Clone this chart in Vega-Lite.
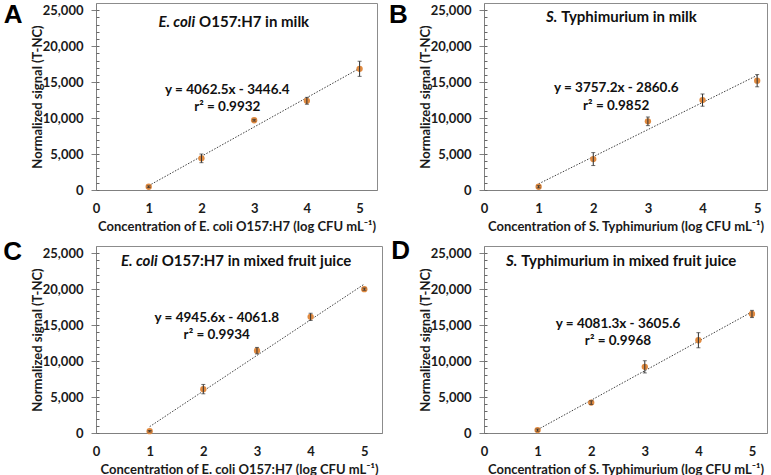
{
  "$schema": "https://vega.github.io/schema/vega-lite/v6.json",
  "padding": {"left": 2, "top": 1, "right": 0, "bottom": 0},
  "background": "white",
  "datasets": {
    "A": [{"x": 1, "y": 450, "err": 120}, {"x": 2, "y": 4400, "err": 600}, {"x": 3, "y": 9700, "err": 120}, {"x": 4, "y": 12400, "err": 480}, {"x": 5, "y": 16850, "err": 1050}],
    "B": [{"x": 1, "y": 450, "err": 150}, {"x": 2, "y": 4300, "err": 900}, {"x": 3, "y": 9550, "err": 600}, {"x": 4, "y": 12500, "err": 850}, {"x": 5, "y": 15200, "err": 850}],
    "C": [{"x": 1, "y": 250, "err": 100}, {"x": 2, "y": 6100, "err": 650}, {"x": 3, "y": 11450, "err": 450}, {"x": 4, "y": 16150, "err": 500}, {"x": 5, "y": 20000, "err": 150}],
    "D": [{"x": 1, "y": 400, "err": 150}, {"x": 2, "y": 4230, "err": 250}, {"x": 3, "y": 9200, "err": 850}, {"x": 4, "y": 12900, "err": 1050}, {"x": 5, "y": 16550, "err": 500}]
  },
  "columns": 2,
  "spacing": {"row": 56, "column": 102},
  "bounds": "flush",
  "concat": [
    {
      "width": 281, "height": 187,
      "data": {"name": "A"},
      "resolve": {"axis": {"x": "independent", "y": "independent"}},
      "layer": [
        {"transform": [{"regression": "y", "on": "x"}],
         "mark": {"type": "line", "color": "#404040", "strokeWidth": 1, "strokeDash": [1.5, 1.5]},
         "encoding": {
           "x": {"field": "x", "type": "quantitative", "scale": {"domain": [0, 5.33], "nice": false}, "axis": {"orient": "bottom", "title": "Concentration of E. coli O157:H7 (log CFU mL⁻¹)", "values": [0, 1, 2, 3, 4, 5], "format": ".0f", "ticks": false, "labelPadding": 12, "titlePadding": 5, "labelFlush": false}},
           "y": {"field": "y", "type": "quantitative", "scale": {"domain": [0, 26000], "nice": false}, "axis": {"orient": "left", "title": "Normalized signal (T-NC)", "values": [0, 5000, 10000, 15000, 20000, 25000], "format": ",.0f", "tickSize": 5, "labelPadding": 8, "minExtent": 46, "maxExtent": 46, "titlePadding": 6}}
         }},
        {"mark": {"type": "point", "filled": true, "size": 40, "color": "#E08A40", "opacity": 1},
         "encoding": {
           "x": {"field": "x", "type": "quantitative", "scale": {"domain": [0, 5.33], "nice": false}, "axis": null},
           "y": {"field": "y", "type": "quantitative", "scale": {"domain": [0, 26000], "nice": false}, "axis": {"orient": "left", "title": null, "values": [0, 1000, 2000, 3000, 4000, 5000, 6000, 7000, 8000, 9000, 10000, 11000, 12000, 13000, 14000, 15000, 16000, 17000, 18000, 19000, 20000, 21000, 22000, 23000, 24000, 25000], "tickSize": 3, "offset": -3, "labels": false, "domain": false, "tickColor": "#666666"}}
         }},
        {"mark": {"type": "errorbar", "ticks": true, "size": 4, "thickness": 1, "color": "#303030"},
         "encoding": {
           "x": {"field": "x", "type": "quantitative", "scale": {"domain": [0, 5.33], "nice": false}, "axis": null},
           "y": {"field": "y", "type": "quantitative", "scale": {"domain": [0, 26000], "nice": false}, "axis": null},
           "yError": {"field": "err"}
         }},
        {"data": {"values": [{}]},
         "mark": {"type": "text", "text": "A", "font": "Liberation Sans", "fontSize": 26, "fontWeight": "bold", "align": "left", "baseline": "alphabetic", "color": "#000"},
         "encoding": {"x": {"datum": -1.75, "type": "quantitative", "scale": {"domain": [0, 5.33], "nice": false}, "axis": null}, "y": {"datum": 23260, "type": "quantitative", "scale": {"domain": [0, 26000], "nice": false}, "axis": null}}},
        {"data": {"values": [{}]},
         "mark": {"type": "text", "text": "E. coli", "fontSize": 15, "fontStyle": "italic", "align": "right", "baseline": "middle"},
         "encoding": {"x": {"datum": 1.88, "type": "quantitative", "scale": {"domain": [0, 5.33], "nice": false}, "axis": null}, "y": {"datum": 23400, "type": "quantitative", "scale": {"domain": [0, 26000], "nice": false}, "axis": null}}},
        {"data": {"values": [{}]},
         "mark": {"type": "text", "text": "O157:H7  in milk", "fontSize": 15, "align": "left", "baseline": "middle", "dx": 4},
         "encoding": {"x": {"datum": 1.88, "type": "quantitative", "scale": {"domain": [0, 5.33], "nice": false}, "axis": null}, "y": {"datum": 23400, "type": "quantitative", "scale": {"domain": [0, 26000], "nice": false}, "axis": null}}},
        {"data": {"values": [{}]},
         "mark": {"type": "text", "text": "y = 4062.5x - 3446.4", "fontSize": 13.5, "align": "center", "baseline": "middle"},
         "encoding": {"x": {"datum": 2.49, "type": "quantitative", "scale": {"domain": [0, 5.33], "nice": false}, "axis": null}, "y": {"datum": 13900, "type": "quantitative", "scale": {"domain": [0, 26000], "nice": false}, "axis": null}}},
        {"data": {"values": [{}]},
         "mark": {"type": "text", "text": "r² = 0.9932", "fontSize": 13.5, "align": "center", "baseline": "middle"},
         "encoding": {"x": {"datum": 2.49, "type": "quantitative", "scale": {"domain": [0, 5.33], "nice": false}, "axis": null}, "y": {"datum": 11500, "type": "quantitative", "scale": {"domain": [0, 26000], "nice": false}, "axis": null}}}
      ]
    },
    {
      "width": 283, "height": 187,
      "data": {"name": "B"},
      "resolve": {"axis": {"x": "independent", "y": "independent"}},
      "layer": [
        {"transform": [{"regression": "y", "on": "x"}],
         "mark": {"type": "line", "color": "#404040", "strokeWidth": 1, "strokeDash": [1.5, 1.5]},
         "encoding": {
           "x": {"field": "x", "type": "quantitative", "scale": {"domain": [0, 5.18], "nice": false}, "axis": {"orient": "bottom", "title": "Concentration of S. Typhimurium (log CFU mL⁻¹)", "values": [0, 1, 2, 3, 4, 5], "format": ".0f", "ticks": false, "labelPadding": 12, "titlePadding": 5, "labelFlush": false}},
           "y": {"field": "y", "type": "quantitative", "scale": {"domain": [0, 26000], "nice": false}, "axis": {"orient": "left", "title": "Normalized signal (T-NC)", "values": [0, 5000, 10000, 15000, 20000, 25000], "format": ",.0f", "tickSize": 5, "labelPadding": 8, "minExtent": 46, "maxExtent": 46, "titlePadding": 6}}
         }},
        {"mark": {"type": "point", "filled": true, "size": 40, "color": "#E08A40", "opacity": 1},
         "encoding": {
           "x": {"field": "x", "type": "quantitative", "scale": {"domain": [0, 5.18], "nice": false}, "axis": null},
           "y": {"field": "y", "type": "quantitative", "scale": {"domain": [0, 26000], "nice": false}, "axis": {"orient": "left", "title": null, "values": [0, 1000, 2000, 3000, 4000, 5000, 6000, 7000, 8000, 9000, 10000, 11000, 12000, 13000, 14000, 15000, 16000, 17000, 18000, 19000, 20000, 21000, 22000, 23000, 24000, 25000], "tickSize": 3, "offset": -3, "labels": false, "domain": false, "tickColor": "#666666"}}
         }},
        {"mark": {"type": "errorbar", "ticks": true, "size": 4, "thickness": 1, "color": "#303030"},
         "encoding": {
           "x": {"field": "x", "type": "quantitative", "scale": {"domain": [0, 5.18], "nice": false}, "axis": null},
           "y": {"field": "y", "type": "quantitative", "scale": {"domain": [0, 26000], "nice": false}, "axis": null},
           "yError": {"field": "err"}
         }},
        {"data": {"values": [{}]},
         "mark": {"type": "text", "text": "B", "font": "Liberation Sans", "fontSize": 26, "fontWeight": "bold", "align": "left", "baseline": "alphabetic", "color": "#000"},
         "encoding": {"x": {"datum": -1.74, "type": "quantitative", "scale": {"domain": [0, 5.18], "nice": false}, "axis": null}, "y": {"datum": 23220, "type": "quantitative", "scale": {"domain": [0, 26000], "nice": false}, "axis": null}}},
        {"data": {"values": [{}]},
         "mark": {"type": "text", "text": "S.", "fontSize": 15, "fontStyle": "italic", "align": "right", "baseline": "middle"},
         "encoding": {"x": {"datum": 1.34, "type": "quantitative", "scale": {"domain": [0, 5.18], "nice": false}, "axis": null}, "y": {"datum": 24000, "type": "quantitative", "scale": {"domain": [0, 26000], "nice": false}, "axis": null}}},
        {"data": {"values": [{}]},
         "mark": {"type": "text", "text": "Typhimurium in milk", "fontSize": 15, "align": "left", "baseline": "middle", "dx": 4},
         "encoding": {"x": {"datum": 1.34, "type": "quantitative", "scale": {"domain": [0, 5.18], "nice": false}, "axis": null}, "y": {"datum": 24000, "type": "quantitative", "scale": {"domain": [0, 26000], "nice": false}, "axis": null}}},
        {"data": {"values": [{}]},
         "mark": {"type": "text", "text": "y = 3757.2x - 2860.6", "fontSize": 13.5, "align": "center", "baseline": "middle"},
         "encoding": {"x": {"datum": 2.42, "type": "quantitative", "scale": {"domain": [0, 5.18], "nice": false}, "axis": null}, "y": {"datum": 14200, "type": "quantitative", "scale": {"domain": [0, 26000], "nice": false}, "axis": null}}},
        {"data": {"values": [{}]},
         "mark": {"type": "text", "text": "r² = 0.9852", "fontSize": 13.5, "align": "center", "baseline": "middle"},
         "encoding": {"x": {"datum": 2.42, "type": "quantitative", "scale": {"domain": [0, 5.18], "nice": false}, "axis": null}, "y": {"datum": 11700, "type": "quantitative", "scale": {"domain": [0, 26000], "nice": false}, "axis": null}}}
      ]
    },
    {
      "width": 286, "height": 187,
      "data": {"name": "C"},
      "resolve": {"axis": {"x": "independent", "y": "independent"}},
      "layer": [
        {"transform": [{"regression": "y", "on": "x"}],
         "mark": {"type": "line", "color": "#404040", "strokeWidth": 1, "strokeDash": [1.5, 1.5]},
         "encoding": {
           "x": {"field": "x", "type": "quantitative", "scale": {"domain": [0, 5.33], "nice": false}, "axis": {"orient": "bottom", "title": "Concentration of E. coli O157:H7 (log CFU mL⁻¹)", "values": [0, 1, 2, 3, 4, 5], "format": ".0f", "ticks": false, "labelPadding": 12, "titlePadding": 5, "labelFlush": false}},
           "y": {"field": "y", "type": "quantitative", "scale": {"domain": [0, 26000], "nice": false}, "axis": {"orient": "left", "title": "Normalized signal (T-NC)", "values": [0, 5000, 10000, 15000, 20000, 25000], "format": ",.0f", "tickSize": 5, "labelPadding": 8, "minExtent": 46, "maxExtent": 46, "titlePadding": 6}}
         }},
        {"mark": {"type": "point", "filled": true, "size": 40, "color": "#E08A40", "opacity": 1},
         "encoding": {
           "x": {"field": "x", "type": "quantitative", "scale": {"domain": [0, 5.33], "nice": false}, "axis": null},
           "y": {"field": "y", "type": "quantitative", "scale": {"domain": [0, 26000], "nice": false}, "axis": {"orient": "left", "title": null, "values": [0, 1000, 2000, 3000, 4000, 5000, 6000, 7000, 8000, 9000, 10000, 11000, 12000, 13000, 14000, 15000, 16000, 17000, 18000, 19000, 20000, 21000, 22000, 23000, 24000, 25000], "tickSize": 3, "offset": -3, "labels": false, "domain": false, "tickColor": "#666666"}}
         }},
        {"mark": {"type": "errorbar", "ticks": true, "size": 4, "thickness": 1, "color": "#303030"},
         "encoding": {
           "x": {"field": "x", "type": "quantitative", "scale": {"domain": [0, 5.33], "nice": false}, "axis": null},
           "y": {"field": "y", "type": "quantitative", "scale": {"domain": [0, 26000], "nice": false}, "axis": null},
           "yError": {"field": "err"}
         }},
        {"data": {"values": [{}]},
         "mark": {"type": "text", "text": "C", "font": "Liberation Sans", "fontSize": 26, "fontWeight": "bold", "align": "left", "baseline": "alphabetic", "color": "#000"},
         "encoding": {"x": {"datum": -1.73, "type": "quantitative", "scale": {"domain": [0, 5.33], "nice": false}, "axis": null}, "y": {"datum": 24050, "type": "quantitative", "scale": {"domain": [0, 26000], "nice": false}, "axis": null}}},
        {"data": {"values": [{}]},
         "mark": {"type": "text", "text": "E. coli", "fontSize": 15, "fontStyle": "italic", "align": "right", "baseline": "middle"},
         "encoding": {"x": {"datum": 1.15, "type": "quantitative", "scale": {"domain": [0, 5.33], "nice": false}, "axis": null}, "y": {"datum": 23900, "type": "quantitative", "scale": {"domain": [0, 26000], "nice": false}, "axis": null}}},
        {"data": {"values": [{}]},
         "mark": {"type": "text", "text": "O157:H7  in mixed fruit juice", "fontSize": 15, "align": "left", "baseline": "middle", "dx": 4},
         "encoding": {"x": {"datum": 1.15, "type": "quantitative", "scale": {"domain": [0, 5.33], "nice": false}, "axis": null}, "y": {"datum": 23900, "type": "quantitative", "scale": {"domain": [0, 26000], "nice": false}, "axis": null}}},
        {"data": {"values": [{}]},
         "mark": {"type": "text", "text": "y = 4945.6x - 4061.8", "fontSize": 13.5, "align": "center", "baseline": "middle"},
         "encoding": {"x": {"datum": 2.25, "type": "quantitative", "scale": {"domain": [0, 5.33], "nice": false}, "axis": null}, "y": {"datum": 16000, "type": "quantitative", "scale": {"domain": [0, 26000], "nice": false}, "axis": null}}},
        {"data": {"values": [{}]},
         "mark": {"type": "text", "text": "r² = 0.9934", "fontSize": 13.5, "align": "center", "baseline": "middle"},
         "encoding": {"x": {"datum": 2.25, "type": "quantitative", "scale": {"domain": [0, 5.33], "nice": false}, "axis": null}, "y": {"datum": 13600, "type": "quantitative", "scale": {"domain": [0, 26000], "nice": false}, "axis": null}}}
      ]
    },
    {
      "width": 283, "height": 187,
      "data": {"name": "D"},
      "resolve": {"axis": {"x": "independent", "y": "independent"}},
      "layer": [
        {"transform": [{"regression": "y", "on": "x"}],
         "mark": {"type": "line", "color": "#404040", "strokeWidth": 1, "strokeDash": [1.5, 1.5]},
         "encoding": {
           "x": {"field": "x", "type": "quantitative", "scale": {"domain": [0, 5.28], "nice": false}, "axis": {"orient": "bottom", "title": "Concentration of S. Typhimurium (log CFU mL⁻¹)", "values": [0, 1, 2, 3, 4, 5], "format": ".0f", "ticks": false, "labelPadding": 12, "titlePadding": 5, "labelFlush": false}},
           "y": {"field": "y", "type": "quantitative", "scale": {"domain": [0, 26000], "nice": false}, "axis": {"orient": "left", "title": "Normalized signal (T-NC)", "values": [0, 5000, 10000, 15000, 20000, 25000], "format": ",.0f", "tickSize": 5, "labelPadding": 8, "minExtent": 46, "maxExtent": 46, "titlePadding": 6}}
         }},
        {"mark": {"type": "point", "filled": true, "size": 40, "color": "#E08A40", "opacity": 1},
         "encoding": {
           "x": {"field": "x", "type": "quantitative", "scale": {"domain": [0, 5.28], "nice": false}, "axis": null},
           "y": {"field": "y", "type": "quantitative", "scale": {"domain": [0, 26000], "nice": false}, "axis": {"orient": "left", "title": null, "values": [0, 1000, 2000, 3000, 4000, 5000, 6000, 7000, 8000, 9000, 10000, 11000, 12000, 13000, 14000, 15000, 16000, 17000, 18000, 19000, 20000, 21000, 22000, 23000, 24000, 25000], "tickSize": 3, "offset": -3, "labels": false, "domain": false, "tickColor": "#666666"}}
         }},
        {"mark": {"type": "errorbar", "ticks": true, "size": 4, "thickness": 1, "color": "#303030"},
         "encoding": {
           "x": {"field": "x", "type": "quantitative", "scale": {"domain": [0, 5.28], "nice": false}, "axis": null},
           "y": {"field": "y", "type": "quantitative", "scale": {"domain": [0, 26000], "nice": false}, "axis": null},
           "yError": {"field": "err"}
         }},
        {"data": {"values": [{}]},
         "mark": {"type": "text", "text": "D", "font": "Liberation Sans", "fontSize": 26, "fontWeight": "bold", "align": "left", "baseline": "alphabetic", "color": "#000"},
         "encoding": {"x": {"datum": -1.73, "type": "quantitative", "scale": {"domain": [0, 5.28], "nice": false}, "axis": null}, "y": {"datum": 24200, "type": "quantitative", "scale": {"domain": [0, 26000], "nice": false}, "axis": null}}},
        {"data": {"values": [{}]},
         "mark": {"type": "text", "text": "S.", "fontSize": 15, "fontStyle": "italic", "align": "right", "baseline": "middle"},
         "encoding": {"x": {"datum": 0.62, "type": "quantitative", "scale": {"domain": [0, 5.28], "nice": false}, "axis": null}, "y": {"datum": 23900, "type": "quantitative", "scale": {"domain": [0, 26000], "nice": false}, "axis": null}}},
        {"data": {"values": [{}]},
         "mark": {"type": "text", "text": "Typhimurium in mixed fruit juice", "fontSize": 15, "align": "left", "baseline": "middle", "dx": 4},
         "encoding": {"x": {"datum": 0.62, "type": "quantitative", "scale": {"domain": [0, 5.28], "nice": false}, "axis": null}, "y": {"datum": 23900, "type": "quantitative", "scale": {"domain": [0, 26000], "nice": false}, "axis": null}}},
        {"data": {"values": [{}]},
         "mark": {"type": "text", "text": "y = 4081.3x - 3605.6", "fontSize": 13.5, "align": "center", "baseline": "middle"},
         "encoding": {"x": {"datum": 2.5, "type": "quantitative", "scale": {"domain": [0, 5.28], "nice": false}, "axis": null}, "y": {"datum": 15200, "type": "quantitative", "scale": {"domain": [0, 26000], "nice": false}, "axis": null}}},
        {"data": {"values": [{}]},
         "mark": {"type": "text", "text": "r² = 0.9968", "fontSize": 13.5, "align": "center", "baseline": "middle"},
         "encoding": {"x": {"datum": 2.5, "type": "quantitative", "scale": {"domain": [0, 5.28], "nice": false}, "axis": null}, "y": {"datum": 12800, "type": "quantitative", "scale": {"domain": [0, 26000], "nice": false}, "axis": null}}}
      ]
    }
  ],
  "config": {
    "font": "Lato",
    "view": {"stroke": "#8c8c8c", "strokeWidth": 1},
    "axis": {"labelFont": "Lato", "labelFontWeight": "bold", "labelFontSize": 13, "labelColor": "#1a1a1a", "titleFont": "Lato", "titleFontWeight": "bold", "titleFontSize": 13, "titleColor": "#1a1a1a", "domainColor": "#808080", "tickColor": "#808080", "grid": false},
    "text": {"font": "Lato", "fontWeight": "bold", "color": "#111111"}
  }
}
